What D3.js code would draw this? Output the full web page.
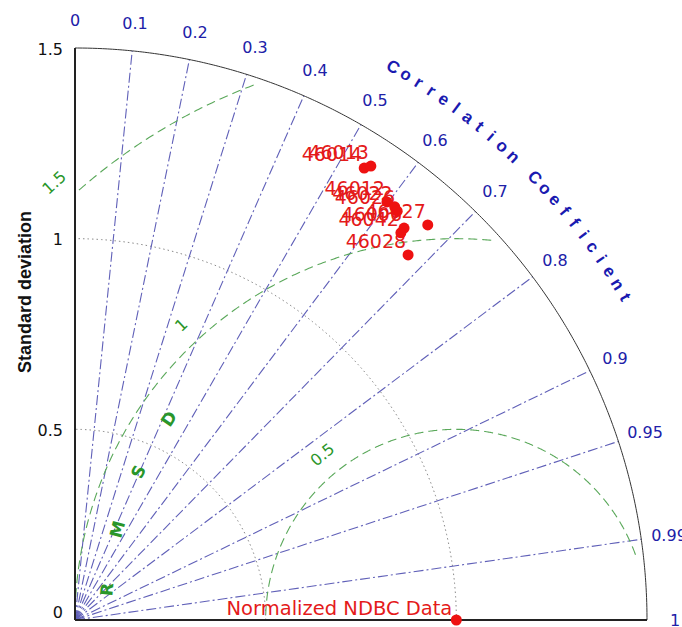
<!DOCTYPE html>
<html>
<head>
<meta charset="utf-8">
<script src="https://cdn.jsdelivr.net/npm/d3@7"></script>
<style>
  html, body { margin: 0; padding: 0; background: #fff; }
  svg { display: block; }
</style>
</head>
<body>
<div id="chart"></div>
<script>
// ---------- data ----------
const stations = ["46014", "46013", "46012", "46022", "46026", "46027", "46006", "46042", "46028"];
const stdDev   = [1.407, 1.421, 1.368, 1.370, 1.365, 1.389, 1.342, 1.327, 1.296];
const corrVals = [0.539, 0.546, 0.598, 0.612, 0.619, 0.666, 0.643, 0.644, 0.674];
const refLabel = "Normalized NDBC Data";
const refStd = 1.0, refCorr = 1.0;
const corrTicks = [0, 0.1, 0.2, 0.3, 0.4, 0.5, 0.6, 0.7, 0.8, 0.9, 0.95, 0.99, 1];
const corrLines = [0.1, 0.2, 0.3, 0.4, 0.5, 0.6, 0.7, 0.8, 0.9, 0.95, 0.99];
const stdTicks = [0, 0.5, 1, 1.5];
const stdTickLabels = ["0", "0.5", "1", "1.5"];
const stdArcs = [0.5, 1.0];
const rmsdLevels = [0.5, 1, 1.5];
const rmsdLabels = ["0.5", "1", "1.5"];
const rmsdLabelAngles = [129, 133, 132.6];
const rmsdWord = ["R", "M", "S", "D"];
const rmsdWordAngles = [175, 165, 155, 145];
const corrTitle = "Correlation Coefficient";
const stdTitle = "Standard deviation";

// ---------- layout ----------
const W = 682, H = 627;
const cx = 75, cy = 620;
const maxStd = 1.5;
const r = d3.scaleLinear().domain([0, maxStd]).range([0, 572]);

const svg = d3.select("#chart").append("svg").attr("width", W).attr("height", H)
  .style("font-family", "'DejaVu Sans', sans-serif");

function polar(std, corr) {
  const th = Math.acos(Math.max(-1, Math.min(1, corr)));
  return [cx + r(std) * Math.cos(th), cy - r(std) * Math.sin(th)];
}
function cart(x, y) { return [cx + r(x), cy - r(y)]; }

// ---------- std dev dotted arcs ----------
stdArcs.forEach(s => {
  const pts = d3.range(0, 90.01, 0.5).map(a => cart(s * Math.cos(a * Math.PI / 180), s * Math.sin(a * Math.PI / 180)));
  svg.append("path").attr("d", d3.line()(pts)).attr("fill", "none")
    .attr("stroke", "#8a8a8a").attr("stroke-width", 1).attr("stroke-dasharray", "1.5,3");
});

// ---------- correlation radial lines ----------
corrLines.forEach(c => {
  const [x2, y2] = polar(maxStd, c);
  svg.append("line").attr("x1", cx).attr("y1", cy).attr("x2", x2).attr("y2", y2)
    .attr("stroke", "#6060b8").attr("stroke-width", 1.1).attr("stroke-dasharray", "10,3,2,3");
});

// ---------- RMSD arcs ----------
const clipR = 1.48;
rmsdLevels.forEach(d => {
  const pts = [];
  d3.range(0, 180.01, 0.25).forEach(a => {
    const x = 1 + d * Math.cos(a * Math.PI / 180);
    const y = d * Math.sin(a * Math.PI / 180);
    if (x >= 0 && Math.hypot(x, y) <= clipR) pts.push(cart(x, y));
  });
  svg.append("path").attr("d", d3.line()(pts)).attr("fill", "none")
    .attr("stroke", "#5aa85a").attr("stroke-width", 1.1).attr("stroke-dasharray", "9,5");
});

// RMSD labels
rmsdLevels.forEach((d, i) => {
  const a = rmsdLabelAngles[i] * Math.PI / 180;
  const rr = d + 0.058;
  const [x, y] = cart(1 + rr * Math.cos(a), rr * Math.sin(a));
  svg.append("text").attr("transform", `translate(${x},${y}) rotate(${90 - rmsdLabelAngles[i]})`)
    .attr("text-anchor", "middle").attr("dominant-baseline", "central")
    .attr("font-size", 16).attr("fill", "#2a962a").text(rmsdLabels[i]);
});
rmsdWord.forEach((ch, i) => {
  const a = rmsdWordAngles[i] * Math.PI / 180;
  const rr = 0.92;
  const [x, y] = cart(1 + rr * Math.cos(a), rr * Math.sin(a));
  svg.append("text").attr("transform", `translate(${x},${y}) rotate(${90 - rmsdWordAngles[i]})`)
    .attr("text-anchor", "middle").attr("dominant-baseline", "central")
    .attr("font-size", 17).attr("font-weight", "bold").attr("fill", "#2a962a").text(ch);
});

// ---------- outer arc & axes ----------
const outer = d3.range(0, 90.01, 0.25).map(a => polar(maxStd, Math.cos(a * Math.PI / 180)));
svg.append("path").attr("d", d3.line()(outer)).attr("fill", "none")
  .attr("stroke", "#333").attr("stroke-width", 1);
svg.append("line").attr("x1", cx).attr("y1", cy - r(maxStd)).attr("x2", cx).attr("y2", cy)
  .attr("stroke", "#222").attr("stroke-width", 2);
svg.append("line").attr("x1", cx).attr("y1", cy).attr("x2", cx + r(maxStd)).attr("y2", cy)
  .attr("stroke", "#222").attr("stroke-width", 2);

// std tick labels
stdTicks.forEach((s, i) => {
  svg.append("text").attr("x", 63).attr("y", cy - r(s) + (s === 0 ? -8 : 1))
    .attr("text-anchor", "end").attr("dominant-baseline", "central")
    .attr("font-size", 16).attr("fill", "#111").text(stdTickLabels[i]);
});
svg.append("text").attr("transform", "translate(31,292) rotate(-90)")
  .attr("text-anchor", "middle").attr("font-family", "'Liberation Sans', Arial, sans-serif")
  .attr("font-weight", "bold").attr("font-size", 18).attr("fill", "#111").text(stdTitle);

// correlation tick labels
const corrLabR = 600 / 572 * maxStd;
corrTicks.forEach(c => {
  const [x, y] = polar(corrLabR, c);
  svg.append("text").attr("x", x).attr("y", y)
    .attr("text-anchor", "middle").attr("dominant-baseline", "central")
    .attr("font-size", 16).attr("fill", "#2020a8").text(String(c));
});

// Correlation Coefficient title along arc
const chars = corrTitle.split("");
const a0 = 60.1, a1 = 30.4, titleR = 638 / 572 * maxStd;
chars.forEach((ch, i) => {
  const ang = a0 + (a1 - a0) * i / (chars.length - 1);
  const [x, y] = polar(titleR, Math.cos(ang * Math.PI / 180));
  svg.append("text").attr("transform", `translate(${x},${y}) rotate(${90 - ang})`)
    .attr("text-anchor", "middle").attr("dominant-baseline", "central")
    .attr("font-family", "'Liberation Sans', Arial, sans-serif")
    .attr("font-weight", "bold").attr("font-size", 17).attr("fill", "#1a1ab0").text(ch);
});

// ---------- station points ----------
const g = svg.append("g");
stations.forEach((st, i) => {
  const [x, y] = polar(stdDev[i], corrVals[i]);
  g.append("text").attr("x", x - 2).attr("y", y - 7).attr("text-anchor", "end")
    .attr("font-size", 19).attr("fill", "#e41a1a").text(st);
});
stations.forEach((st, i) => {
  const [x, y] = polar(stdDev[i], corrVals[i]);
  g.append("circle").attr("cx", x).attr("cy", y).attr("r", 5.5).attr("fill", "#ee1111");
});

// reference point
const [rx, ry] = polar(refStd, refCorr);
svg.append("text").attr("x", rx - 4).attr("y", ry - 5).attr("text-anchor", "end")
  .attr("font-size", 19.5).attr("fill", "#e41a1a").text(refLabel);
svg.append("circle").attr("cx", rx).attr("cy", ry).attr("r", 5.5).attr("fill", "#ee1111");
</script>
</body>
</html>
